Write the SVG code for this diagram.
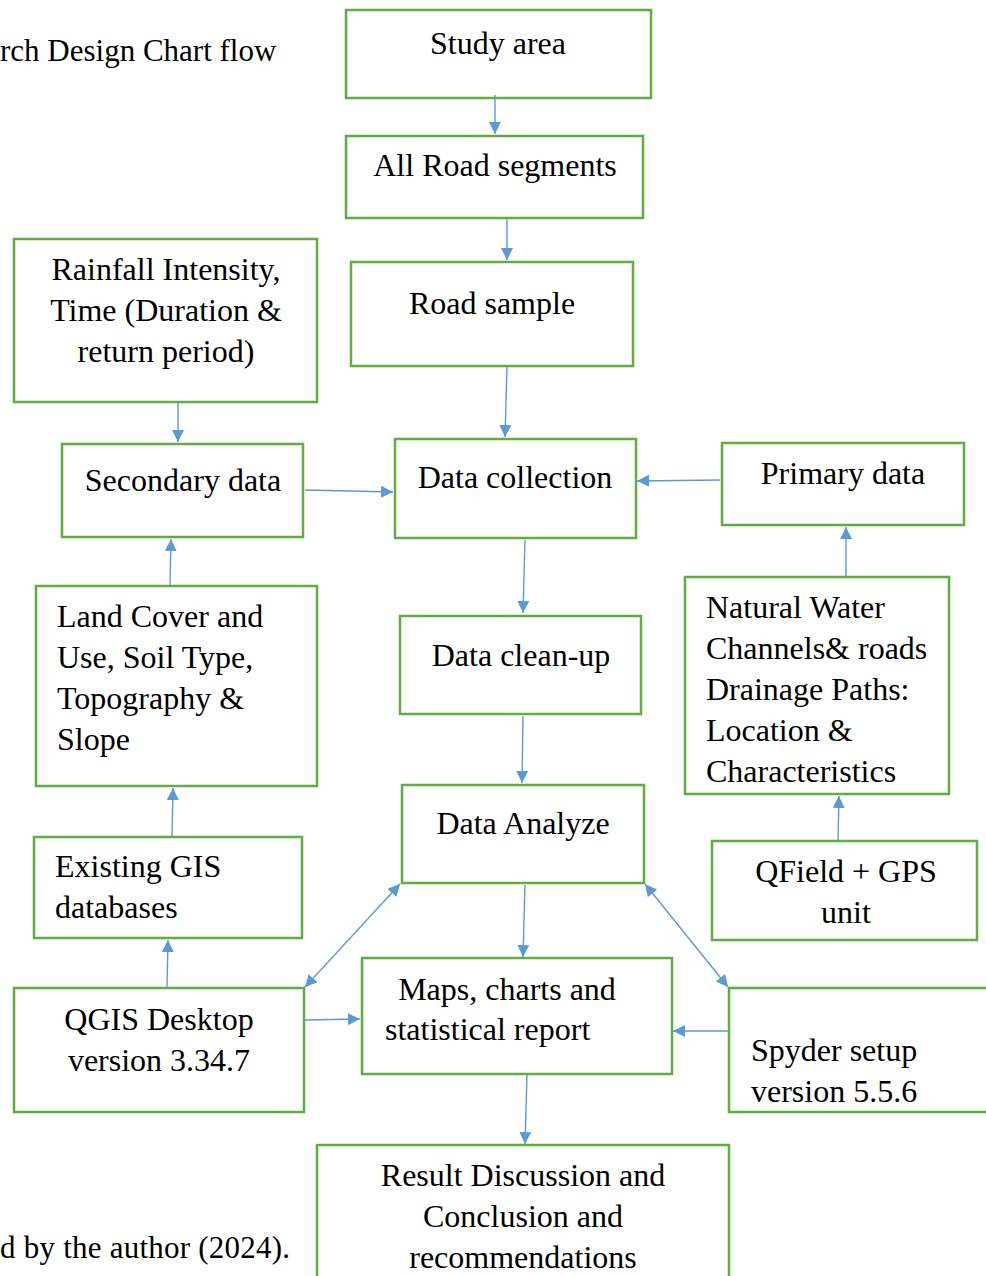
<svg xmlns="http://www.w3.org/2000/svg" width="986" height="1276" viewBox="0 0 986 1276">
<style>
.box{fill:#fff;stroke:#62AD41;stroke-width:2.5}
text{font-family:"Liberation Serif","Times New Roman",serif;font-size:32px;fill:#000}
.c{text-anchor:middle}
.cap{font-size:31px}
.con{stroke:#5B9BD5;stroke-width:1.4;fill:none}
</style>
<defs>
<marker id="ah" markerUnits="userSpaceOnUse" markerWidth="14" markerHeight="14" refX="12" refY="6" orient="auto-start-reverse">
<path d="M0,0 L12,6 L0,12 Z" fill="#5B9BD5"/>
</marker>
</defs>
<rect width="986" height="1276" fill="#fff"/>
<text class="cap" x="0" y="61">rch Design Chart flow</text>
<text class="cap" x="0" y="1258" textLength="290">d by the author (2024).</text>

<g id="study-area"><rect class="box" x="346" y="10" width="305" height="88"/><text class="c" x="498" y="54">Study area</text></g>
<g id="all-road"><rect class="box" x="346" y="136" width="297" height="82"/><text class="c" x="495" y="176">All Road segments</text></g>
<g id="road-sample"><rect class="box" x="351" y="262" width="282" height="104"/><text class="c" x="492" y="314">Road sample</text></g>
<g id="rainfall"><rect class="box" x="14" y="239" width="303" height="163"/><text class="c" x="166" y="280">Rainfall Intensity,</text><text class="c" x="166" y="321">Time (Duration &amp;</text><text class="c" x="166" y="362">return period)</text></g>
<g id="secondary"><rect class="box" x="62" y="444" width="241" height="93"/><text class="c" x="183" y="491">Secondary data</text></g>
<g id="data-collection"><rect class="box" x="395" y="439" width="241" height="99"/><text class="c" x="515" y="488">Data collection</text></g>
<g id="primary"><rect class="box" x="722" y="443" width="242" height="82"/><text class="c" x="843" y="484">Primary data</text></g>
<g id="land-cover"><rect class="box" x="36" y="586" width="281" height="200"/><text x="57" y="627">Land Cover and</text><text x="57" y="668">Use, Soil Type,</text><text x="57" y="709">Topography &amp;</text><text x="57" y="750">Slope</text></g>
<g id="data-cleanup"><rect class="box" x="400" y="616" width="241" height="98"/><text class="c" x="521" y="666">Data clean-up</text></g>
<g id="natural-water"><rect class="box" x="685" y="577" width="264" height="217"/><text x="706" y="618">Natural Water</text><text x="706" y="659">Channels&amp; roads</text><text x="706" y="700">Drainage Paths:</text><text x="706" y="741">Location &amp;</text><text x="706" y="782">Characteristics</text></g>
<g id="data-analyze"><rect class="box" x="402" y="785" width="242" height="98"/><text class="c" x="523" y="834">Data Analyze</text></g>
<g id="existing-gis"><rect class="box" x="34" y="837" width="268" height="101"/><text x="55" y="877">Existing GIS</text><text x="55" y="918">databases</text></g>
<g id="qfield"><rect class="box" x="712" y="841" width="265" height="99"/><text class="c" x="846" y="882">QField + GPS</text><text class="c" x="846" y="923">unit</text></g>
<g id="qgis"><rect class="box" x="14" y="988" width="290" height="124"/><text class="c" x="159" y="1030">QGIS Desktop</text><text class="c" x="159" y="1071">version 3.34.7</text></g>
<g id="maps"><rect class="box" x="362" y="958" width="310" height="116"/><text class="c" x="507" y="1000">Maps, charts and</text><text x="385" y="1040">statistical report</text></g>
<g id="spyder"><rect class="box" x="729" y="988" width="270" height="124"/><text x="751" y="1061">Spyder setup</text><text x="751" y="1102">version 5.5.6</text></g>
<g id="result"><rect class="box" x="317" y="1145" width="412" height="150"/><text class="c" x="523" y="1186">Result Discussion and</text><text class="c" x="523" y="1227">Conclusion and</text><text class="c" x="523" y="1268">recommendations</text></g>

<g id="connectors">
<line class="con" x1="495" y1="95" x2="495" y2="134" marker-end="url(#ah)"/>
<line class="con" x1="507" y1="219" x2="507" y2="260" marker-end="url(#ah)"/>
<line class="con" x1="507" y1="367" x2="505" y2="437" marker-end="url(#ah)"/>
<line class="con" x1="178" y1="403" x2="178" y2="442" marker-end="url(#ah)"/>
<line class="con" x1="305" y1="490" x2="393" y2="492" marker-end="url(#ah)"/>
<line class="con" x1="720" y1="480" x2="637" y2="481" marker-end="url(#ah)"/>
<line class="con" x1="525" y1="540" x2="523" y2="613" marker-end="url(#ah)"/>
<line class="con" x1="846" y1="576" x2="846" y2="527" marker-end="url(#ah)"/>
<line class="con" x1="170" y1="585" x2="171" y2="539" marker-end="url(#ah)"/>
<line class="con" x1="523" y1="716" x2="522" y2="783" marker-end="url(#ah)"/>
<line class="con" x1="838" y1="840" x2="839" y2="796" marker-end="url(#ah)"/>
<line class="con" x1="172" y1="836" x2="173" y2="788" marker-end="url(#ah)"/>
<line class="con" x1="167" y1="987" x2="168" y2="940" marker-end="url(#ah)"/>
<line class="con" x1="400" y1="884" x2="305" y2="987" marker-start="url(#ah)" marker-end="url(#ah)"/>
<line class="con" x1="525" y1="885" x2="523" y2="957" marker-end="url(#ah)"/>
<line class="con" x1="645" y1="884" x2="728" y2="987" marker-start="url(#ah)" marker-end="url(#ah)"/>
<line class="con" x1="305" y1="1020" x2="360" y2="1019" marker-end="url(#ah)"/>
<line class="con" x1="728" y1="1031" x2="673" y2="1031" marker-end="url(#ah)"/>
<line class="con" x1="527" y1="1075" x2="525" y2="1144" marker-end="url(#ah)"/>
</g>
</svg>
